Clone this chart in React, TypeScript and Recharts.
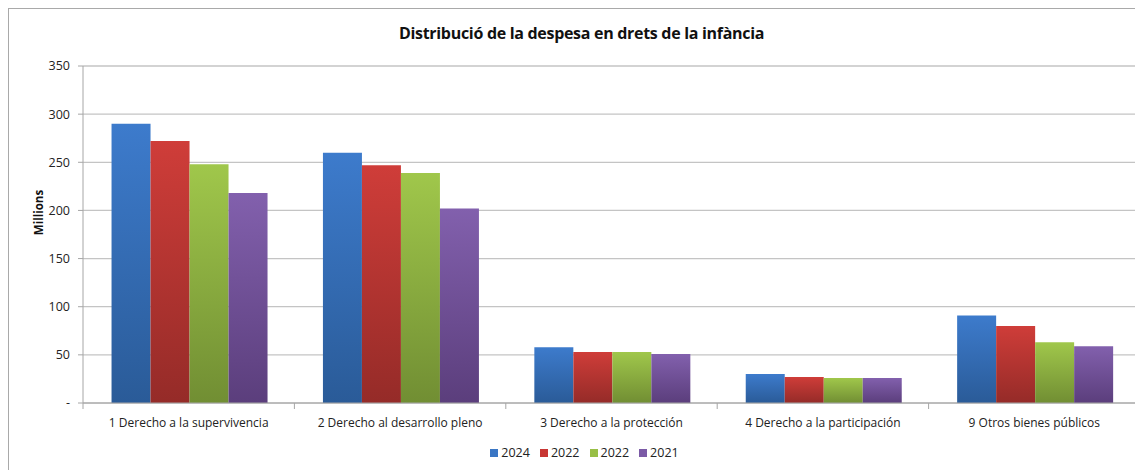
import React from 'react';
import { BarChart, Bar, XAxis, YAxis, CartesianGrid, Legend } from 'recharts';

const categories = [
  '1 Derecho a la supervivencia',
  '2 Derecho al desarrollo pleno',
  '3 Derecho a la protección',
  '4 Derecho a la participación',
  '9 Otros bienes públicos',
];

const values2024 = [290, 260, 58, 30, 91];
const values2022a = [272, 247, 53, 27, 80];
const values2022b = [248, 239, 53, 26, 63];
const values2021 = [218, 202, 51, 26, 59];

const yTicks = [0, 50, 100, 150, 200, 250, 300, 350];

const series = [
  { key: 'y2024', name: '2024', top: '#3d7bcc', bottom: '#2a5b98', legend: '#3a76c4' },
  { key: 'y2022a', name: '2022', top: '#cf3d39', bottom: '#952b28', legend: '#c83633' },
  { key: 'y2022b', name: '2022', top: '#a0c74b', bottom: '#718e33', legend: '#98bf46' },
  { key: 'y2021', name: '2021', top: '#8260ad', bottom: '#5b3e7c', legend: '#7b5aa6' },
];

const data = categories.map((name, i) => ({
  name,
  y2024: values2024[i],
  y2022a: values2022a[i],
  y2022b: values2022b[i],
  y2021: values2021[i],
}));

const FONT = "'Open Sans', 'Noto Sans', sans-serif";
const CHART_W = 1131;
const CHART_H = 477;
const MARGIN = { top: 57, right: 0, bottom: 0, left: 20 };
const Y_WIDTH = 54;

const CategoryTick = (props: any) => {
  const { x, y, payload, index } = props;
  const band = (CHART_W - MARGIN.left - MARGIN.right - Y_WIDTH) / categories.length;
  const left = x - band / 2;
  return (
    <g>
      <line x1={left} x2={left} y1={y - 8} y2={y - 2} stroke="#a6a6a6" />
      {index === categories.length - 1 && (
        <line x1={left + band} x2={left + band} y1={y - 8} y2={y - 2} stroke="#a6a6a6" />
      )}
      <text x={x} y={y + 16} textAnchor="middle" fill="#222" fontSize={12} fontFamily={FONT}>
        {payload.value}
      </text>
    </g>
  );
};

const YLabel = (props: any) => {
  const vb = props.viewBox || {};
  const x = 29;
  const y = vb.y + vb.height / 2 - 22;
  return (
    <text
      x={x}
      y={y}
      transform={`rotate(-90, ${x}, ${y})`}
      textAnchor="middle"
      dominantBaseline="central"
      fontFamily={FONT}
      fontWeight={700}
      fontSize={11.5}
      fill="#111"
    >
      Millions
    </text>
  );
};

const LegendContent = () => (
  <div style={{ display: 'flex', justifyContent: 'center', gap: 10, fontFamily: FONT, fontSize: 12.5, color: '#222' }}>
    {series.map((s) => (
      <span key={s.key} style={{ display: 'flex', alignItems: 'center' }}>
        <span style={{ width: 8, height: 8, background: s.legend, display: 'inline-block', marginRight: 3 }} />
        {s.name}
      </span>
    ))}
  </div>
);

const App: React.FC = () => {
  return (
    <div
      style={{
        position: 'relative',
        width: 1135,
        height: 462,
        overflow: 'hidden',
        borderTop: '1px solid #a9a9a9',
        borderLeft: '1px solid #a9a9a9',
        boxSizing: 'border-box',
        background: '#fff',
      }}
    >
      <div
        style={{
          position: 'absolute',
          top: 13,
          left: 0,
          width: CHART_W + 14,
          textAlign: 'center',
          fontFamily: FONT,
          fontWeight: 700,
          fontSize: 16,
          color: '#111',
          letterSpacing: -0.3,
        }}
      >
        Distribució de la despesa en drets de la infància
      </div>
      <BarChart
        width={CHART_W}
        height={CHART_H}
        data={data}
        margin={MARGIN}
        barCategoryGap="13.5%"
        barGap={0}
      >
        <defs>
          {series.map((s) => (
            <linearGradient key={s.key} id={`grad-${s.key}`} x1="0" y1="0" x2="0" y2="1">
              <stop offset="0%" stopColor={s.top} />
              <stop offset="100%" stopColor={s.bottom} />
            </linearGradient>
          ))}
        </defs>
        <CartesianGrid vertical={false} stroke="#c4c4c4" strokeWidth={1.3} />
        <XAxis
          dataKey="name"
          axisLine={{ stroke: '#a6a6a6' }}
          tickLine={false}
          tick={<CategoryTick />}
          height={36}
          interval={0}
        />
        <YAxis
          width={Y_WIDTH}
          domain={[0, 350]}
          ticks={yTicks}
          interval={0}
          axisLine={{ stroke: '#a6a6a6' }}
          tickLine={{ stroke: '#a6a6a6' }}
          tickSize={5}
          tickMargin={8}
          tick={{ fill: '#222', fontSize: 12.5, fontFamily: FONT }}
          tickFormatter={(v: number) => (v === 0 ? '-' : String(v))}
          label={<YLabel />}
        />
        <Legend
          verticalAlign="bottom"
          content={<LegendContent />}
          wrapperStyle={{ height: 42, paddingTop: 5 }}
        />
        {series.map((s) => (
          <Bar
            key={s.key}
            dataKey={s.key}
            name={s.name}
            fill={`url(#grad-${s.key})`}
            isAnimationActive={false}
          />
        ))}
      </BarChart>
    </div>
  );
};

export default App;
